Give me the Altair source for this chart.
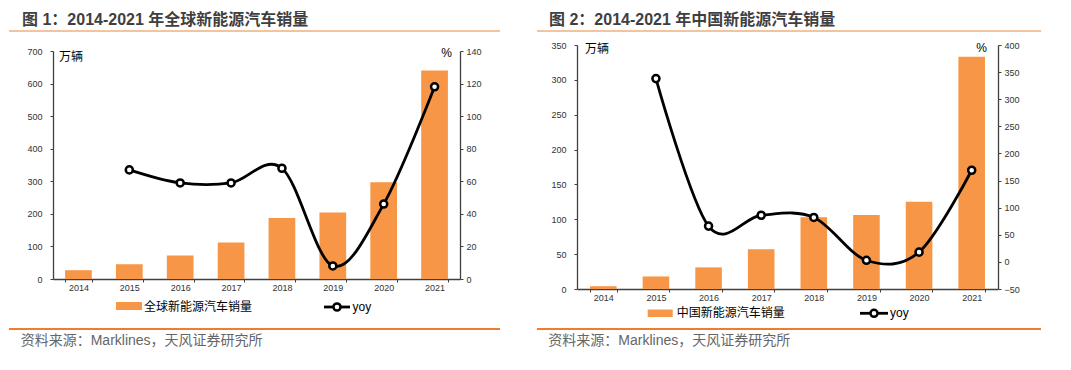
import altair as alt
import pandas as pd

years = ["2014", "2015", "2016", "2017", "2018", "2019", "2020", "2021"]
global_sales = [27, 45, 72, 112, 187, 204, 297, 640]
global_yoy = [None, 67, 59, 59, 68, 8, 46, 118]
china_sales = [4, 18, 31, 57, 103, 106, 125, 333]
china_yoy = [None, 338, 66, 86, 82, 3, 18, 169]

titles = ["图 1：2014-2021 年全球新能源汽车销量", "图 2：2014-2021 年中国新能源汽车销量"]
legend_names = ["全球新能源汽车销量", "中国新能源汽车销量"]
source_text = "资料来源：Marklines，天风证券研究所"

FONT = "Liberation Sans, Noto Sans CJK SC"
BAR = "#F79646"
RULE = "#E9883F"
AXIS = "#404040"

# both panels share the same origin (page y = 45); the left plot's scales start 6px lower
cfgs = [
    dict(w=407, h=234, yr0=6, frame=(-45, 480, -37, 317), title=(-31, -20.5), top=(-44, 447, -14),
         bottom=(-44, 447, 284), src=(-32.3, 300), unit=(6, 12), pct=(399, 7.7),
         sw=(63, 89, 257, 265), lt=(91, 262), yr=(271, 297, 262), yc=284, yt=299.5,
         ldom=[0, 700], lstep=100, rdom=[0, 140], rstep=20, pin=0.475),
    dict(w=421, h=244, yr0=0, frame=(-44, 486, -37, 317), title=(-28, -20.5), top=(-40, 464, -14),
         bottom=(-40, 464, 284), src=(-28.7, 300), unit=(8, 3.7), pct=(410, 2.7),
         sw=(70.7, 95.7, 264.5, 272), lt=(99.7, 268.3), yr=(283, 311, 268.3), yc=297, yt=313,
         ldom=[0, 350], lstep=50, rdom=[-50, 400], rstep=50, pin=0.495),
]


def panel(i, sales, yoy, c):
    df = pd.DataFrame({"year": years, "sales": sales, "yoy": yoy})
    base = alt.Chart(df)
    deco = alt.Chart(alt.Data(values=[{"k": 1}]))
    yrange = [c["h"], c["yr0"]]
    x = alt.X("year:N", sort=years, title=None,
              scale=alt.Scale(paddingInner=c["pin"], paddingOuter=c["pin"] / 2),
              axis=alt.Axis(labelAngle=0, labelFontSize=9, tickBand="extent", tickSize=3,
                            labelPadding=1))
    lvals = list(range(c["ldom"][0], c["ldom"][1] + 1, c["lstep"]))
    rvals = list(range(c["rdom"][0], c["rdom"][1] + 1, c["rstep"]))
    bars = base.mark_bar(color=BAR).encode(
        x=x,
        y=alt.Y("sales:Q", title=None, scale=alt.Scale(domain=c["ldom"], nice=False, range=yrange),
                axis=alt.Axis(values=lvals, labelFontSize=9, tickSize=3, labelPadding=8)),
    )
    yy = alt.Y("yoy:Q", title=None, scale=alt.Scale(domain=c["rdom"], nice=False, range=yrange),
               axis=alt.Axis(orient="right", values=rvals, labelFontSize=9, tickSize=3,
                             labelPadding=3))
    line = base.mark_line(color="black", strokeWidth=2.8, interpolate="cardinal").encode(x=x, y=yy)
    pts = base.mark_point(shape="circle", filled=True, fill="white", stroke="black",
                          strokeWidth=2.5, size=50, opacity=1).encode(x=x, y=yy)

    fx1, fx2, fy1, fy2 = c["frame"]
    frame = deco.mark_rect(fill="white", opacity=0).encode(
        x=alt.value(fx1), x2=alt.value(fx2), y=alt.value(fy1), y2=alt.value(fy2))
    title = deco.mark_text(text=titles[i], font=FONT, fontSize=16, fontWeight="bold",
                           color="#3F3F3F", align="left", baseline="alphabetic").encode(
        x=alt.value(c["title"][0]), y=alt.value(c["title"][1]))
    tl = c["top"]
    top_rule = deco.mark_rule(color=RULE, strokeWidth=1).encode(
        x=alt.value(tl[0]), x2=alt.value(tl[1]), y=alt.value(tl[2]))
    bl = c["bottom"]
    bot_rule = deco.mark_rule(color="#ED7D31", strokeWidth=2).encode(
        x=alt.value(bl[0]), x2=alt.value(bl[1]), y=alt.value(bl[2]))
    src = deco.mark_text(text=source_text, font=FONT, fontSize=14, color="#666666",
                         align="left", baseline="alphabetic").encode(
        x=alt.value(c["src"][0]), y=alt.value(c["src"][1]))
    unit = deco.mark_text(text="万辆", font=FONT, fontSize=12, color="black",
                          align="left", baseline="middle").encode(
        x=alt.value(c["unit"][0]), y=alt.value(c["unit"][1]))
    pct = deco.mark_text(text="%", font=FONT, fontSize=12, color="black",
                         align="right", baseline="middle").encode(
        x=alt.value(c["pct"][0]), y=alt.value(c["pct"][1]))
    s = c["sw"]
    swatch = deco.mark_rect(color=BAR).encode(
        x=alt.value(s[0]), x2=alt.value(s[1]), y=alt.value(s[2]), y2=alt.value(s[3]))
    ltext = deco.mark_text(text=legend_names[i], font=FONT, fontSize=12, color="black",
                           align="left", baseline="middle").encode(
        x=alt.value(c["lt"][0]), y=alt.value(c["lt"][1]))
    r = c["yr"]
    yrule = deco.mark_rule(color="black", strokeWidth=2.8).encode(
        x=alt.value(r[0]), x2=alt.value(r[1]), y=alt.value(r[2]))
    ycirc = deco.mark_point(shape="circle", filled=True, fill="white", stroke="black",
                            strokeWidth=2.5, size=50, opacity=1).encode(
        x=alt.value(c["yc"]), y=alt.value(r[2]))
    ytext = deco.mark_text(text="yoy", font=FONT, fontSize=12, color="black",
                           align="left", baseline="middle").encode(
        x=alt.value(c["yt"]), y=alt.value(r[2]))

    main = alt.layer(bars, alt.layer(line, pts)).resolve_scale(y="independent")
    return alt.layer(frame, main, title, top_rule, bot_rule, src, unit, pct,
                     swatch, ltext, yrule, ycirc, ytext).properties(width=c["w"], height=c["h"])


p1 = panel(0, global_sales, global_yoy, cfgs[0])
p2 = panel(1, china_sales, china_yoy, cfgs[1])

chart = alt.hconcat(p1, p2, spacing=0).properties(
    padding=0, background="white"
).configure_view(
    stroke=None
).configure_axis(
    labelFont=FONT, labelColor="#333333", domainColor=AXIS, tickColor=AXIS,
    domainWidth=1.3, tickWidth=1, grid=False
)

chart.save("out.html", embed_options={"renderer": "svg", "actions": False})
